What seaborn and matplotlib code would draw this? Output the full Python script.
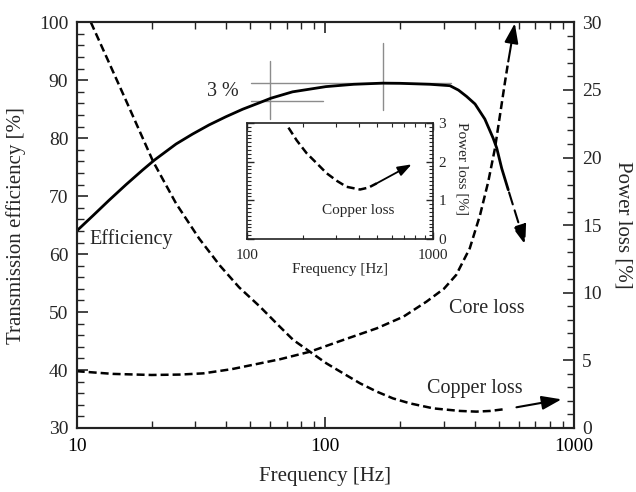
import numpy as np
import pandas as pd
import matplotlib
matplotlib.use("Agg")
import matplotlib.pyplot as plt
from matplotlib.ticker import LogLocator, MultipleLocator, NullFormatter
import seaborn as sns

# ---- data ---------------------------------------------------------------
eff_freq = [10, 11.6, 13.5, 15.8, 18.4, 20.5, 25.1, 29.2, 34.1, 39.8, 46.5, 54.2,
            60.4, 73.8, 100.5, 130, 170, 200, 264, 317, 343, 370, 400, 438, 473,
            489, 512, 544]
eff_val = [64.0, 66.6, 69.3, 72.0, 74.5, 76.2, 79.0, 80.7, 82.3, 83.7, 85.0, 86.1,
           86.9, 88.0, 88.9, 89.3, 89.5, 89.47, 89.3, 89.06, 88.3, 87.2, 85.9, 83.3,
           80.0, 78.3, 74.8, 71.1]

core_freq = [10, 14, 20, 26, 32.3, 42, 54.6, 65.6, 86.7, 118, 161, 206, 255, 300,
             336, 381, 419, 452, 481, 504, 528, 544]
core_val = [4.2, 4.0, 3.92, 3.95, 4.04, 4.35, 4.78, 5.08, 5.64, 6.51, 7.37, 8.23,
            9.34, 10.3, 11.32, 13.29, 15.75, 18.21, 20.68, 23.14, 25.6, 27.1]

cu_freq = [11.4, 13.5, 15.8, 20.3, 25.1, 31.1, 37.7, 45, 54.6, 65.6, 74.3, 86.7, 101,
           118, 138, 161, 187, 219, 272, 348, 405, 460, 519]
cu_val = [30.0, 27.0, 24.2, 19.7, 16.6, 14.0, 12.0, 10.4, 8.97, 7.49, 6.51, 5.64, 4.78,
          4.04, 3.30, 2.69, 2.19, 1.82, 1.45, 1.26, 1.21, 1.26, 1.38]

inset_freq = [167, 185, 209, 238, 268, 305, 343, 405, 450, 498]
inset_val = [2.88, 2.55, 2.22, 1.95, 1.70, 1.50, 1.35, 1.28, 1.33, 1.44]

peak_eff = 89.5
band = 3.0
peak_freq = 170
band_freq = 60

# ---- style --------------------------------------------------------------
sns.set_theme(style="ticks")
plt.rcParams["font.family"] = ["Liberation Serif", "DejaVu Serif"]
plt.rcParams["mathtext.fontset"] = "stix"

fig = plt.figure(figsize=(6.36, 4.92), dpi=100)
ax = fig.add_axes([0.1206, 0.1301, 0.7819, 0.8246])
ax2 = ax.twinx()

dash = (0, (3.2, 1.6))

for a in (ax, ax2):
    a.set_xscale("log")
    a.set_xlim(10, 1000)
    for s in a.spines.values():
        s.set_linewidth(1.5)
        s.set_color("#222222")

ax.set_ylim(30, 100)
ax2.set_ylim(0, 30)

df_eff = pd.DataFrame({"f": eff_freq, "v": eff_val})
df_core = pd.DataFrame({"f": core_freq, "v": core_val})
df_cu = pd.DataFrame({"f": cu_freq, "v": cu_val})

sns.lineplot(data=df_eff, x="f", y="v", ax=ax, color="black", lw=2.0,
             sort=False, estimator=None)
sns.lineplot(data=df_core, x="f", y="v", ax=ax2, color="black", lw=1.8,
             linestyle=dash, sort=False, estimator=None)
sns.lineplot(data=df_cu, x="f", y="v", ax=ax2, color="black", lw=1.8,
             linestyle=dash, sort=False, estimator=None)

# arrows pointing to the relevant axis
ax.annotate("", xy=(637, 61.6), xytext=(eff_freq[-1], eff_val[-1]),
            arrowprops=dict(arrowstyle="-|>,head_length=1.0,head_width=0.35",
                            color="black", lw=1.5, linestyle=(0, (6, 3)),
                            shrinkA=2, shrinkB=0))
ax2.annotate("", xy=(578, 29.93), xytext=(core_freq[-1], core_val[-1]),
             arrowprops=dict(arrowstyle="-|>,head_length=1.0,head_width=0.35",
                             color="black", lw=1.5, shrinkA=0, shrinkB=0))
ax2.annotate("", xy=(891, 2.12), xytext=(587, 1.53),
             arrowprops=dict(arrowstyle="-|>,head_length=1.0,head_width=0.35",
                             color="black", lw=1.5, shrinkA=0, shrinkB=0))

# 3 % band markers
gray = "#8c8c8c"
ax.plot([50.3, 319], [peak_eff, peak_eff], color=gray, lw=1.0, zorder=1)
ax.plot([50.3, 98], [peak_eff - band, peak_eff - band], color=gray, lw=1.0, zorder=1)
ax.plot([band_freq, band_freq], [83.3, 93.3], color=gray, lw=1.0, zorder=1)
ax.plot([peak_freq, peak_freq], [84.9, 96.4], color=gray, lw=1.0, zorder=1)
ax.text(45, peak_eff - band / 2, "3 %", ha="right", va="center", fontsize=14.5)

# labels on curves
ax.text(11.2, 62.6, "Efficiency", ha="left", va="center", fontsize=14.5)
ax2.text(445, 8.8, "Core loss", ha="center", va="center", fontsize=14.5)
ax2.text(400, 2.95, "Copper loss", ha="center", va="center", fontsize=14.5)

# axes, ticks
ax.set_xlabel("Frequency [Hz]", fontsize=15, labelpad=9)
ax.set_ylabel("Transmission efficiency [%]", fontsize=15, labelpad=9)
ax2.set_ylabel("Power loss [%]", fontsize=15, rotation=270, labelpad=22)

ax.set_xticks([10, 100, 1000])
ax.set_xticklabels(["10", "100", "1000"])
ax.xaxis.set_minor_locator(LogLocator(base=10, subs=np.arange(2, 10)))
ax.xaxis.set_minor_formatter(NullFormatter())
ax.yaxis.set_major_locator(MultipleLocator(10))
ax.yaxis.set_minor_locator(MultipleLocator(2))
ax2.yaxis.set_major_locator(MultipleLocator(5))
ax2.yaxis.set_minor_locator(MultipleLocator(1))

ax.tick_params(axis="x", which="both", direction="in", top=True, bottom=True,
               labelsize=14, pad=7, colors="#222222", labelcolor="black")
ax.tick_params(axis="x", which="major", length=8, width=1.2)
ax.tick_params(axis="x", which="minor", length=5, width=1.0)
ax.tick_params(axis="y", which="both", direction="in", left=True, right=False,
               labelsize=14, pad=6)
ax.tick_params(axis="y", which="major", length=8, width=1.2)
ax.tick_params(axis="y", which="minor", length=5, width=1.0)
ax2.tick_params(axis="y", which="both", direction="in", right=True, left=False,
                labelsize=14, pad=6)
ax2.tick_params(axis="y", which="major", length=8, width=1.2)
ax2.tick_params(axis="y", which="minor", length=5, width=1.0)
ax2.tick_params(axis="x", which="both", top=False, bottom=False)
ax2.set_xlabel("")

# ---- inset: copper loss close-up ----------------------------------------
axi = fig.add_axes([0.3884, 0.5142, 0.2925, 0.2358])
axi.set_xscale("log")
axi.set_xlim(100, 1000)
axi.set_ylim(0, 3)
df_in = pd.DataFrame({"f": inset_freq, "v": inset_val})
sns.lineplot(data=df_in, x="f", y="v", ax=axi, color="black", lw=1.8,
             linestyle=dash, sort=False, estimator=None)
axi.annotate("", xy=(767, 1.93), xytext=(inset_freq[-1], inset_val[-1]),
             arrowprops=dict(arrowstyle="-|>,head_length=0.7,head_width=0.25",
                             color="black", lw=1.3, shrinkA=0, shrinkB=0))
axi.text(395, 0.75, "Copper loss", ha="center", va="center", fontsize=11)
for s in axi.spines.values():
    s.set_linewidth(1.2)
    s.set_color("#222222")
axi.set_xticks([100, 1000])
axi.set_xticklabels(["100", "1000"])
axi.xaxis.set_minor_locator(LogLocator(base=10, subs=np.arange(2, 10)))
axi.xaxis.set_minor_formatter(NullFormatter())
axi.yaxis.set_major_locator(MultipleLocator(1))
axi.yaxis.set_minor_locator(MultipleLocator(0.1))
axi.yaxis.tick_right()
axi.yaxis.set_label_position("right")
axi.tick_params(axis="both", which="both", direction="in", top=True, bottom=True,
                left=True, right=True, labelsize=11)
axi.tick_params(axis="x", which="major", pad=7)
axi.tick_params(axis="y", which="major", pad=4)
axi.tick_params(axis="both", which="major", length=5, width=1.0)
axi.tick_params(axis="both", which="minor", length=3, width=0.8)
axi.set_xlabel("Frequency [Hz]", fontsize=11, labelpad=1)
axi.set_ylabel("Power loss [%]", fontsize=11, rotation=270, va="center")
axi.yaxis.set_label_coords(1.155, 0.61)

fig.savefig("out.png", dpi=100)
